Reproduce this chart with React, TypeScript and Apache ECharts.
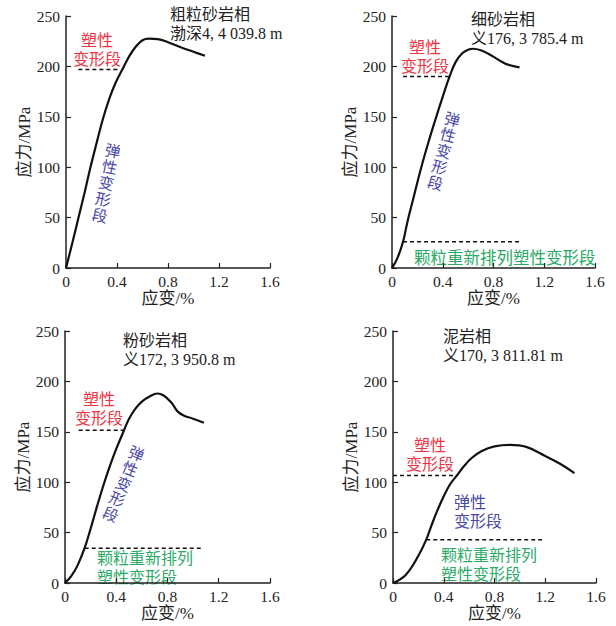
import React, { useEffect, useRef } from "react";
import * as echarts from "echarts";

// strain (%), stress (MPa)
const curve1: number[][] = [[0,0],[0.05,25],[0.1,51],[0.15,77],[0.19,99],[0.24,124],[0.29,148],[0.34,168],[0.39,184],[0.45,199],[0.5,211],[0.55,220],[0.6,226],[0.65,227.5],[0.72,227],[0.8,224],[0.9,219],[1.0,214.5],[1.09,210.5]];
const curve2: number[][] = [[0,0],[0.04,9],[0.087,26],[0.12,45],[0.17,70],[0.231,100],[0.29,126],[0.349,150],[0.4,170],[0.454,190],[0.5,204],[0.55,212.5],[0.6,216.5],[0.64,217.5],[0.7,216],[0.76,212.5],[0.82,208],[0.89,203],[0.95,200.5],[1.005,199]];
const curve3: number[][] = [[0,0],[0.05,7],[0.1,18],[0.154,35],[0.2,54],[0.25,76],[0.3,97],[0.35,116],[0.4,133],[0.459,151],[0.5,163],[0.55,173],[0.6,180],[0.66,185],[0.72,188],[0.77,186],[0.83,179],[0.88,170],[0.93,166],[1.0,163],[1.084,159]];
const curve4: number[][] = [[0,0],[0.1,8],[0.2,27],[0.262,43],[0.3,56],[0.35,72],[0.4,86],[0.45,98],[0.506,107],[0.56,116],[0.62,124],[0.7,131],[0.8,135.5],[0.92,137],[1.05,135],[1.2,126],[1.32,118],[1.43,109]];

// dashed boundary lines: [[x0, y], [x1, y]]
const plastic1: number[][] = [[0.097,197],[0.42,197]];
const plastic2: number[][] = [[0.087,190],[0.454,190]];
const grain2: number[][] = [[0.087,26],[1.005,26]];
const plastic3: number[][] = [[0.107,151.5],[0.459,151.5]];
const grain3: number[][] = [[0.154,34.4],[1.066,34.4]];
const plastic4: number[][] = [[0,106.6],[0.506,106.6]];
const grain4: number[][] = [[0.262,42.8],[1.175,42.8]];

const titles: string[] = ["粗粒砂岩相\n渤深4, 4 039.8 m","细砂岩相\n义176, 3 785.4 m","粉砂岩相\n义172, 3 950.8 m","泥岩相\n义170, 3 811.81 m"];
const xTicks = { min: 0, max: 1.6, interval: 0.4 };
const yTicks = { min: 0, max: 250, interval: 50 };
const xName = "应变/%";
const yName = "应力/MPa";

const FONT = "'Liberation Serif', 'Noto Sans CJK SC', serif";
const CJK = "'Noto Sans CJK SC', 'Liberation Serif', sans-serif";
const RED = "#ee3444";
const BLUE = "#4848a8";
const GREEN = "#2aaa66";
const INK = "#222";

const grids = [
  { left: 66, top: 16, width: 204, height: 252 },
  { left: 392, top: 16, width: 203, height: 252 },
  { left: 65, top: 331, width: 205, height: 252 },
  { left: 393, top: 331, width: 203, height: 252 },
];

export default function App() {
  const ref = useRef<HTMLDivElement>(null);
  useEffect(() => {
    if (!ref.current) return;
    const chart = echarts.init(ref.current, null, { renderer: "svg" });
    const axisLine = { lineStyle: { color: INK, width: 1.5 } };
    const axisTick = { inside: true, length: 5, lineStyle: { color: INK, width: 1.2 } };
    const xAxis = grids.map((_, i) => ({
      type: "value", gridIndex: i, min: xTicks.min, max: xTicks.max, interval: xTicks.interval,
      name: xName, nameLocation: "middle", nameGap: 22,
      nameTextStyle: { fontFamily: FONT, fontSize: 17, color: INK },
      axisLine, axisTick, splitLine: { show: false },
      axisLabel: { fontFamily: FONT, fontSize: 15.5, color: INK, margin: 6 },
    }));
    const yAxis = grids.map((_, i) => ({
      type: "value", gridIndex: i, min: yTicks.min, max: yTicks.max, interval: yTicks.interval,
      name: yName, nameLocation: "middle", nameGap: 32,
      nameTextStyle: { fontFamily: FONT, fontSize: 17, color: INK },
      axisLine, axisTick, splitLine: { show: false },
      axisLabel: { fontFamily: FONT, fontSize: 15.5, color: INK, margin: 6 },
    }));
    const curves = [curve1, curve2, curve3, curve4];
    const dashed: [number, number[][]][] = [
      [0, plastic1], [1, plastic2], [1, grain2], [2, plastic3], [2, grain3], [3, plastic4], [3, grain4],
    ];
    const series: any[] = [];
    curves.forEach((c, i) => series.push({
      type: "line", xAxisIndex: i, yAxisIndex: i, data: c, smooth: 0.4, showSymbol: false,
      lineStyle: { color: "#111", width: 2.2 },
    }));
    dashed.forEach(([i, d]) => series.push({
      type: "line", xAxisIndex: i, yAxisIndex: i, data: d, showSymbol: false,
      lineStyle: { color: "#111", width: 1.5, type: [4, 3] },
    }));

    const txt = (x: number, y: number, text: string, color: string, opts: any = {}) => ({
      type: "text", x, y, rotation: opts.rotation || 0, silent: true,
      style: {
        text, fill: color, font: `${opts.size || 16}px ${opts.family || CJK}`,
        textAlign: opts.align || "center", textVerticalAlign: "middle",
        lineHeight: opts.lh || 19,
      },
    });
    const graphic: any[] = [
      // titles
      txt(170, 24, titles[0], INK, { align: "left", family: FONT, size: 16 }),
      txt(471, 29, titles[1], INK, { align: "left", family: FONT, size: 16 }),
      txt(123, 349.5, titles[2], INK, { align: "left", family: FONT, size: 16 }),
      txt(443, 346, titles[3], INK, { align: "left", family: FONT, size: 16 }),
      // plastic
      txt(97, 48.5, "塑性\n变形段", RED),
      txt(425, 55, "塑性\n变形段", RED),
      txt(99, 407.5, "塑性\n变形段", RED),
      txt(430, 453.5, "塑性\n变形段", RED),
      // elastic
      txt(106.5, 182, "弹\n性\n变\n形\n段", BLUE, { rotation: -0.2, lh: 16.5, size: 15.5 }),
      txt(444, 150, "弹\n性\n变\n形\n段", BLUE, { rotation: -0.26, lh: 16.5, size: 15.5 }),
      txt(124, 483, "弹\n性\n变\n形\n段", BLUE, { rotation: -0.4, lh: 16.5, size: 15.5 }),
      txt(454, 510.5, "弹性\n变形段", BLUE, { align: "left" }),
      // grain rearrangement
      txt(414, 257, "颗粒重新排列塑性变形段", GREEN, { align: "left", size: 16.5 }),
      txt(97, 566, "颗粒重新排列\n塑性变形段", GREEN, { align: "left", size: 16 }),
      txt(441, 563.5, "颗粒重新排列\n塑性变形段", GREEN, { align: "left", size: 16 }),
    ];

    chart.setOption({
      animation: false,
      backgroundColor: "#fff",
      grid: grids.map((g) => ({ ...g, containLabel: false })),
      xAxis, yAxis, series, graphic,
    });
    return () => chart.dispose();
  }, []);
  return <div ref={ref} style={{ position: "fixed", left: 0, top: 0, width: 616, height: 626 }} />;
}
